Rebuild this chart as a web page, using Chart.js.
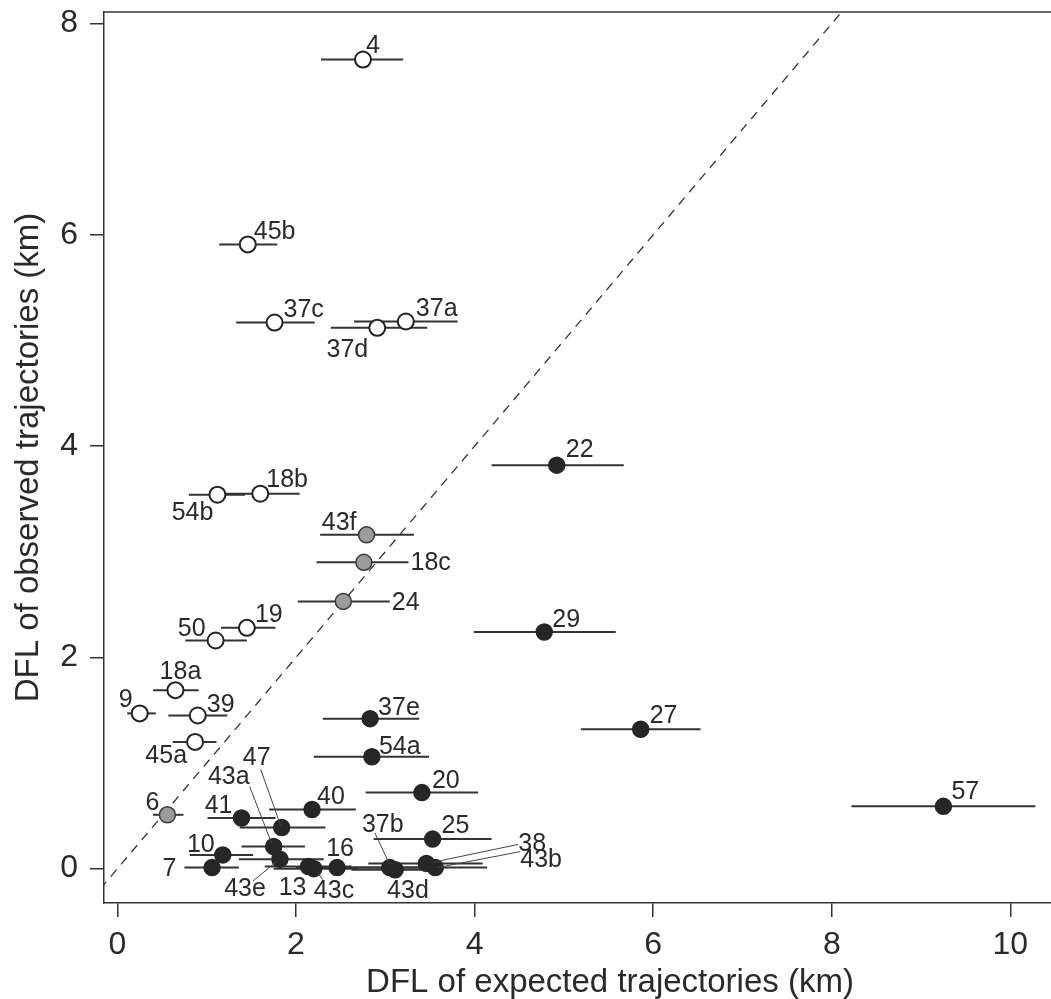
<!DOCTYPE html>
<html>
<head>
<meta charset="utf-8">
<script src="https://cdn.jsdelivr.net/npm/chart.js@4.4.1/dist/chart.umd.min.js"></script>
<style>
html,body{margin:0;padding:0;background:#fff;}
#wrap{width:1051px;height:999px;position:relative;}
</style>
</head>
<body>
<div id="wrap"><canvas id="c" width="1051" height="999"></canvas></div>
<script>
// ---------- data ----------
const ids = ['4','45b','37c','37a','37d','18b','54b','19','50','18a','9','39','45a',
             '43f','18c','24','6',
             '22','29','27','57','37e','54a','20','40','41','47','25','43a','10','43e','7','13','43c','16','37b','43d','38','43b'];
const expectedDFL = [2.75,1.46,1.76,3.23,2.91,1.60,1.12,1.45,1.10,0.65,0.25,0.90,0.87,
                     2.79,2.76,2.53,0.56,
                     4.92,4.78,5.86,9.25,2.83,2.85,3.41,2.18,1.39,1.84,3.53,1.75,1.18,1.82,1.06,2.14,2.20,2.46,3.05,3.11,3.46,3.56];
const observedDFL = [7.66,5.91,5.17,5.18,5.12,3.55,3.54,2.28,2.16,1.69,1.47,1.45,1.20,
                     3.16,2.90,2.53,0.51,
                     3.82,2.24,1.32,0.59,1.42,1.06,0.72,0.56,0.48,0.39,0.28,0.21,0.13,0.09,0.01,0.02,0.00,0.01,0.01,-0.01,0.05,0.01];
const expectedLow = [2.28,1.14,1.33,2.65,2.39,1.15,0.80,1.16,0.76,0.40,0.11,0.57,0.62,
                     2.27,2.23,2.02,0.40,
                     4.19,3.99,5.19,8.22,2.30,2.20,2.78,1.70,1.01,1.37,2.87,1.39,0.81,1.36,0.75,1.65,1.75,2.00,2.55,2.62,2.81,2.95];
const expectedHigh = [3.20,1.79,2.21,3.81,3.47,2.04,1.43,1.77,1.45,0.91,0.43,1.23,1.11,
                      3.32,3.26,3.05,0.74,
                      5.67,5.58,6.53,10.28,3.38,3.49,4.04,2.67,1.77,2.33,4.19,2.10,1.52,2.31,1.36,2.62,2.70,2.95,3.60,3.64,4.09,4.14];
const pointGroup = ['open','open','open','open','open','open','open','open','open','open','open','open','open',
                    'grey','grey','grey','grey',
                    'filled','filled','filled','filled','filled','filled','filled','filled','filled','filled','filled','filled','filled','filled','filled','filled','filled','filled','filled','filled','filled','filled'];
const xTicks = [0,2,4,6,8,10];
const yTicks = [0,2,4,6,8];
const identityLine = [-1, 9];
const xTitle = 'DFL of expected trajectories (km)';
const yTitle = 'DFL of observed trajectories (km)';

// ---------- label placement (pixels relative to point; style only) ----------
const labelPlacement = {
  '4':[3,-7,'left'], '45b':[6,-5,'left'], '37c':[9,-6,'left'], '37a':[10,-5,'left'],
  '37d':[-9,29,'right'], '18b':[6,-7,'left'], '54b':[-4,25,'right'], '19':[8,-6,'left'],
  '50':[-10,-5,'right'], '18a':[5,-11,'center'], '9':[-7,-6,'right'], '39':[9,-4,'left'],
  '45a':[-8,21,'right'], '43f':[-10,-5,'right'], '18c':[2,8,'left','hi'], '24':[2,9,'left','hi'],
  '6':[-8,-5,'right'], '22':[9,-8,'left'], '29':[8,-5,'left'], '27':[9,-6,'left'], '57':[8,-7,'left'],
  '37e':[8,-4,'left'], '54a':[7,-3,'left'], '20':[10,-5,'left'], '40':[5,-6,'left'], '41':[-9,-5,'right'],
  '25':[9,-6,'left'], '10':[-8,-3,'right'], '7':[-8,8,'right','lo'], '16':[3,-12,'center'],
  '13':[-2,28,'right'], '43c':[0,29,'left',null,[9,11,3,3]], '43d':[-8,28,'left'],
  '43e':[-14,37,'right',null,[-27,22,-3,2]], '43a':[-24,-62,'right',null,[-24,-60,-2,-3]],
  '47':[-25,-62,'center',null,[-21,-58,-1,-2]], '37b':[-7,-36,'center',null,[-15,-35,0,-3]],
  '38':[92,-12,'left',null,[92,-19,6,-1]], '43b':[85,-1,'left',null,[85,-16,2,0]]
};

const FONT = '"Liberation Sans", Arial, Helvetica, sans-serif';
const INK = '#2a2a2a';

// ---------- datasets ----------
const idx = ids.map((_, i) => i);
const styleOf = {
  open:   {bg:'#ffffff', bd:'#222222', bw:2},
  grey:   {bg:'#9b9b9b', bd:'#3a3a3a', bw:1.5},
  filled: {bg:'#262626', bd:'#262626', bw:1.5}
};
const datasets = [];
['open','grey','filled'].forEach(g => {
  const sel = idx.filter(i => pointGroup[i] === g);
  datasets.push({
    type:'scatter', label:g, order:0,
    data: sel.map(i => ({x:expectedDFL[i], y:observedDFL[i]})),
    pointRadius:8, pointHoverRadius:8,
    backgroundColor:styleOf[g].bg, borderColor:styleOf[g].bd, borderWidth:styleOf[g].bw,
    clip:false
  });
});
idx.forEach(i => {
  datasets.push({
    type:'line', label:'range '+ids[i], order:1,
    data:[{x:expectedLow[i], y:observedDFL[i]},{x:expectedHigh[i], y:observedDFL[i]}],
    borderColor:'#333333', borderWidth:2, pointRadius:0, fill:false, tension:0, clip:false
  });
});
datasets.push({
  type:'line', label:'identity', order:2,
  data: identityLine.map(v => ({x:v, y:v})),
  borderColor:'#333333', borderWidth:1.3, borderDash:[9,7], pointRadius:0, fill:false, clip:0
});

// ---------- plugins ----------
const framePlugin = {
  id:'frame',
  afterDraw(chart){
    const {ctx, chartArea:a} = chart;
    ctx.save();
    ctx.strokeStyle = '#333333'; ctx.lineWidth = 1.5;
    ctx.beginPath(); ctx.moveTo(a.left, a.top); ctx.lineTo(a.right, a.top); ctx.stroke();
    // x-axis title: the original plot region continues past the right edge, so the
    // title is centred on that wider region
    ctx.font = '33px ' + FONT;
    ctx.fillStyle = INK;
    ctx.textAlign = 'center';
    ctx.textBaseline = 'alphabetic';
    ctx.fillText(xTitle, (a.left + a.right + 65) / 2, chart.height - 7);
    ctx.restore();
  }
};
const labelPlugin = {
  id:'pointLabels',
  afterDatasetsDraw(chart){
    const {ctx} = chart;
    const xs = chart.scales.x, ys = chart.scales.y;
    ctx.save();
    ctx.font = '25px ' + FONT;
    ctx.fillStyle = INK;
    ctx.textBaseline = 'alphabetic';
    idx.forEach(i => {
      const p = labelPlacement[ids[i]];
      if (!p) return;
      const [dx, dy, align, anchor, leader] = p;
      const xv = anchor === 'hi' ? expectedHigh[i] : anchor === 'lo' ? expectedLow[i] : expectedDFL[i];
      const px = xs.getPixelForValue(xv);
      const py = ys.getPixelForValue(observedDFL[i]);
      if (leader) {
        const cx = xs.getPixelForValue(expectedDFL[i]);
        ctx.strokeStyle = '#444'; ctx.lineWidth = 1;
        ctx.beginPath();
        ctx.moveTo(cx + leader[0], py + leader[1]);
        ctx.lineTo(cx + leader[2], py + leader[3]);
        ctx.stroke();
      }
      ctx.textAlign = align;
      ctx.fillText(ids[i], px + dx, py + dy);
    });
    ctx.restore();
  }
};

new Chart(document.getElementById('c'), {
  type:'scatter',
  data:{datasets},
  options:{
    responsive:false, animation:false, devicePixelRatio:1,
    layout:{autoPadding:false, padding:{top:12, right:0, left:0, bottom:0}},
    plugins:{legend:{display:false}, tooltip:{enabled:false}},
    scales:{
      x:{
        type:'linear', position:'bottom', min:-0.15, max:10.455,
        afterBuildTicks(s){ s.ticks = xTicks.map(v => ({value:v})); },
        afterFit(s){ s.height = 96; s.paddingLeft = 0; s.paddingRight = 0; },
        grid:{drawOnChartArea:false, drawTicks:true, tickLength:14, color:'#333333', lineWidth:1.5},
        border:{display:true, color:'#333333', width:1.5},
        ticks:{font:{family:FONT, size:32}, color:INK, padding:9, maxRotation:0, autoSkip:false},
        title:{display:false}
      },
      y:{
        type:'linear', position:'left', min:-0.325, max:8.11,
        afterBuildTicks(s){ s.ticks = yTicks.map(v => ({value:v})); },
        afterFit(s){ s.width = 104; s.paddingTop = 0; s.paddingBottom = 0; },
        grid:{drawOnChartArea:false, drawTicks:true, tickLength:14, color:'#333333', lineWidth:1.5},
        border:{display:true, color:'#333333', width:1.5},
        ticks:{font:{family:FONT, size:32}, color:INK, padding:12, autoSkip:false},
        title:{display:true, text:yTitle, font:{family:FONT, size:33}, color:INK, padding:{top:9,bottom:0}}
      }
    }
  },
  plugins:[framePlugin, labelPlugin]
});
</script>
</body>
</html>
